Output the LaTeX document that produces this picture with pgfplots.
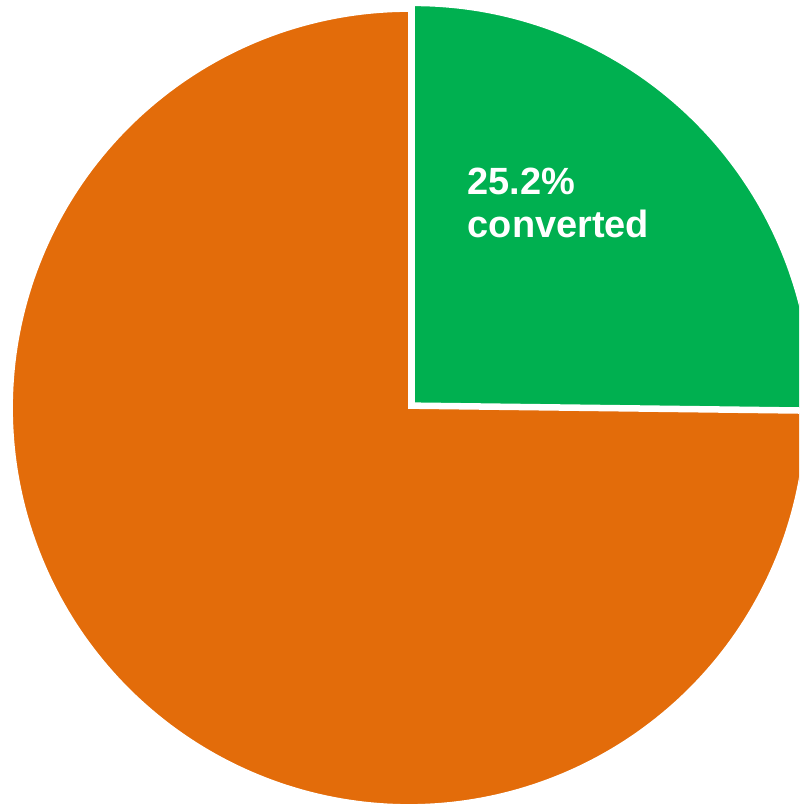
\documentclass[border=0pt]{standalone}
\usepackage{pgfplots}
\pgfplotsset{compat=1.18}
\usepackage{fontspec}
\setmainfont{Liberation Sans}
\definecolor{pieorange}{HTML}{E36C0A}
\definecolor{piegreen}{HTML}{00B050}
\begin{document}
\begin{tikzpicture}
\useasboundingbox (0,0) rectangle (7.99cm,8.05cm);
% slice values (percent)
\pgfmathsetmacro{\conv}{25.2}
\pgfmathsetmacro{\notconv}{74.8}
\pgfmathsetmacro{\gstart}{90-3.6*\conv}
\begin{axis}[
  at={(0,0)}, anchor=south west,
  scale only axis, width=7.99cm, height=8.05cm,
  xmin=0, xmax=799, ymin=0, ymax=805,
  hide axis, clip=true,
]
% not converted (orange)
\addplot[fill=pieorange, draw=white, line width=0.5pt, domain=90:90+3.6*\notconv, samples=240, variable=\t]
  ({409+397*cos(\t)},{397+397*sin(\t)}) -- (axis cs:409,397) -- cycle;
% converted (green), slightly exploded
\addplot[fill=piegreen, draw=white, line width=0.5pt, domain=\gstart:90, samples=120, variable=\t]
  ({414+398*cos(\t)},{401.7+398*sin(\t)}) -- (axis cs:414,401.7) -- cycle;
\node[anchor=base west, align=left, text=white, font=\fontsize{10.8pt}{12.3pt}\selectfont\bfseries, inner sep=0pt]
  at (axis cs:467,567) {25.2\%\\converted};
\end{axis}
\end{tikzpicture}
\end{document}
